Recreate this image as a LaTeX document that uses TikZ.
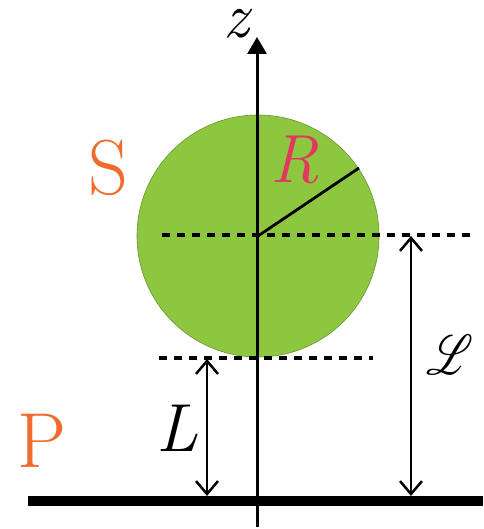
\documentclass[tikz,border=0pt]{standalone}
\usepackage{mathrsfs}
\usetikzlibrary{arrows.meta}
\definecolor{ballgreen}{RGB}{141,198,63}
\definecolor{labelorange}{RGB}{240,108,45}
\definecolor{radred}{RGB}{228,55,95}
\tikzset{
  guide/.style={line width=3.4pt, dash pattern=on 8pt off 7pt},
  dim/.style={line width=2.5pt, {Straight Barb[length=13pt,width=22pt]}-{Straight Barb[length=13pt,width=22pt]}},
  biglabel/.style={inner sep=0pt, font=\fontsize{78}{80}\selectfont, text=labelorange},
  mathlabel/.style={inner sep=0pt, font=\fontsize{68}{70}\selectfont\itshape}
}
\begin{document}
\begin{tikzpicture}[x=1pt,y=-1pt]
\useasboundingbox (0,0) rectangle (483,529);
% sphere
\coordinate (O) at (258,236);
\fill[ballgreen, draw=ballgreen!75!black, line width=0.6pt] (O) circle (121pt);
% guide lines
\coordinate (g1a) at (162,235);
\coordinate (g1b) at (470,235);
\coordinate (g2a) at (159,358);
\coordinate (g2b) at (373,358);
\draw[guide] (g1a) -- (g1b);
\draw[guide] (g2a) -- (g2b);
% plane
\coordinate (pa) at (28,501);
\coordinate (pb) at (483,501);
\draw[line width=10pt] (pa) -- (pb);
% z axis
\coordinate (zb) at (257,527);
\coordinate (zt) at (257,37);
\draw[line width=3pt, -{Triangle[length=17pt,width=19pt]}] (zb) -- (zt);
% radius
\coordinate (rend) at (359,168);
\draw[line width=2.8pt] (O) -- (rend);
% dimension arrows
\coordinate (La) at (207,359);
\coordinate (Lb) at (207,496);
\draw[dim] (La) -- (Lb);
\coordinate (SLa) at (411,236);
\coordinate (SLb) at (411,496);
\draw[dim] (SLa) -- (SLb);
% labels
\node[inner sep=0pt, font=\fontsize{64}{66}\selectfont\itshape] (zlab) at (236,24) {z};
\node[biglabel] (Slab) at (108,168) {S};
\node[biglabel] (Plab) at (42,441) {P};
\node[mathlabel, text=radred] (Rlab) at (295,160) {R};
\node[mathlabel] (Llab) at (177,428) {L};
\node[inner sep=0pt] (SLlab) at (450,355) {\scalebox{4.4}[5.6]{$\mathscr{L}$}};
\end{tikzpicture}
\end{document}
